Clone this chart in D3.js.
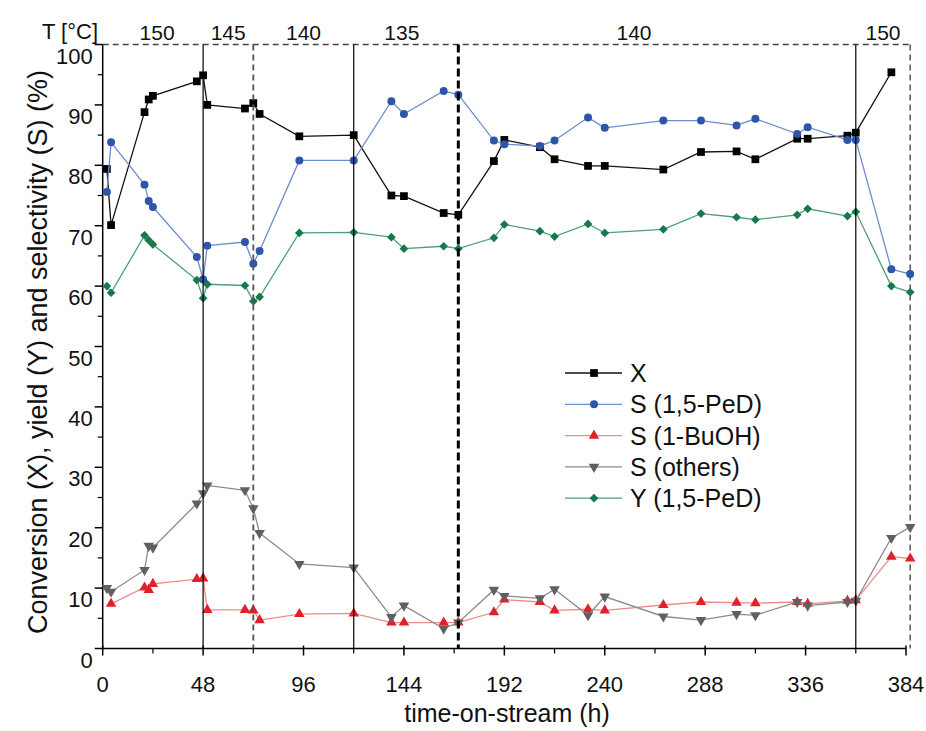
<!DOCTYPE html>
<html>
<head>
<meta charset="utf-8">
<script src="https://cdn.jsdelivr.net/npm/d3@7"></script>
<style>
  body { margin: 0; background: #fff; }
  text { font-family: "Liberation Sans", Arial, sans-serif; fill: #111; }
</style>
</head>
<body>
<script>
// time-on-stream (h) of each sample
const hours = [2, 4, 20, 22, 24, 45, 48, 50, 68, 72, 75, 94, 120, 138, 144, 163, 170,
  187, 192, 209, 216, 232, 240, 268, 286, 303, 312, 332, 337, 356, 360, 377, 386];

// values in %, null = no point
const conversionX = [79.4, 70.1, 88.8, 90.9, 91.5, 93.9, 94.9, 90.0, 89.4, 90.3, 88.5, 84.8, 85.0, 75.0, 74.9, 72.1, 71.8,
  80.7, 84.2, 83.0, 81.0, 79.9, 79.9, 79.3, 82.2, 82.3, 81.0, 84.4, 84.4, 84.9, 85.4, 95.4, null];
const selPeD = [75.6, 83.8, 76.8, 74.1, 73.1, 64.8, 61.1, 66.7, 67.3, 63.7, 65.8, 80.8, 80.8, 90.6, 88.5, 92.3, 91.7,
  84.1, 83.5, 83.2, 84.1, 87.9, 86.2, 87.4, 87.4, 86.6, 87.7, 85.2, 86.3, 84.2, 84.2, 62.8, 62.0];
const selBuOH = [null, 7.4, 10.1, 9.7, 10.7, 11.5, 11.6, 6.4, 6.4, 6.3, 4.7, 5.7, 5.8, 4.3, 4.3, 4.3, 4.3,
  6.0, 8.1, 7.7, 6.3, 6.5, 6.3, 7.2, 7.7, 7.6, 7.5, 7.7, 7.4, 7.9, 8.0, 15.2, 14.9];
const selOthers = [10.0, 9.4, 13.0, 17.0, 16.7, 24.0, 25.7, 27.0, 26.2, 23.2, 19.1, 14.0, 13.4, 5.2, 7.1, 3.3, 4.3,
  9.7, 8.7, 8.3, 9.8, 5.5, 8.6, 5.3, 4.7, 5.7, 5.5, 7.7, 7.1, 7.7, 7.9, 18.3, 20.1];
const yieldPeD = [60.0, 58.9, 68.4, 67.6, 66.9, 61.0, 58.0, 60.3, 60.1, 57.5, 58.2, 68.8, 68.9, 68.1, 66.2, 66.6, 66.2,
  68.0, 70.2, 69.1, 68.2, 70.3, 68.8, 69.4, 72.0, 71.4, 71.0, 71.8, 72.8, 71.6, 72.3, 60.0, 59.0];

const seriesNames = ["X", "S (1,5-PeD)", "S (1-BuOH)", "S (others)", "Y (1,5-PeD)"];

// temperature periods
const switchHours = [48, 72, 120, 170, 360];
const endHour = 386;
const tempLabels = ["150", "145", "140", "135", "140", "150"];
const tempLabelHours = [26, 60, 96, 143, 254, 373];

const xTicks = d3.range(0, 385, 48);
const xMinor = d3.range(24, 385, 48);
const yTicks = d3.range(0, 101, 10);
const yMinor = d3.range(5, 100, 10);

const width = 926, height = 731;
const svg = d3.select("body").append("svg")
  .attr("width", width).attr("height", height);

const x = d3.scaleLinear().domain([0, 384]).range([102.7, 906]);
const y = d3.scaleLinear().domain([0, 100]).range([648.5, 44.5]);

// styles per series (same order as seriesNames)
const styles = [
  { line: "#111", fill: "#000", sym: d3.symbolSquare, size: 60, rot: 0 },
  { line: "#6f8ccc", fill: "#2f55a8", sym: d3.symbolCircle, size: 50, rot: 0 },
  { line: "#f08a8a", fill: "#e0202c", sym: d3.symbolTriangle, size: 48, rot: 0 },
  { line: "#8c8c8c", fill: "#606060", sym: d3.symbolTriangle, size: 48, rot: 180 },
  { line: "#4f9f78", fill: "#17784a", sym: d3.symbolSquare, size: 38, rot: 45 }
];
const values = [conversionX, selPeD, selBuOH, selOthers, yieldPeD];

// axes
const gx = svg.append("g").attr("transform", "translate(0," + y(0) + ")");
gx.append("line").attr("x1", x(0)).attr("x2", x(384)).attr("stroke", "#000").attr("stroke-width", 1.5);
gx.selectAll(".maj").data(xTicks).join("line")
  .attr("x1", d => x(d)).attr("x2", d => x(d)).attr("y1", -3).attr("y2", 7)
  .attr("stroke", "#000").attr("stroke-width", 1.5);
gx.selectAll(".min").data(xMinor).join("line")
  .attr("x1", d => x(d)).attr("x2", d => x(d)).attr("y1", 0).attr("y2", 5)
  .attr("stroke", "#000").attr("stroke-width", 1.2);
gx.selectAll("text").data(xTicks).join("text")
  .attr("x", d => x(d)).attr("y", 43)
  .attr("text-anchor", "middle").attr("font-size", 22)
  .text(d => d);

const gy = svg.append("g").attr("transform", "translate(" + x(0) + ",0)");
gy.append("line").attr("y1", y(0)).attr("y2", y(100)).attr("stroke", "#000").attr("stroke-width", 1.5);
gy.selectAll(".maj").data(yTicks).join("line")
  .attr("x1", -8).attr("x2", 0).attr("y1", d => y(d)).attr("y2", d => y(d))
  .attr("stroke", "#000").attr("stroke-width", 1.5);
gy.selectAll(".min").data(yMinor).join("line")
  .attr("x1", -5).attr("x2", 0).attr("y1", d => y(d)).attr("y2", d => y(d))
  .attr("stroke", "#000").attr("stroke-width", 1.2);
gy.selectAll("text").data(yTicks).join("text")
  .attr("x", -10).attr("y", d => y(d) + 19)
  .attr("text-anchor", "end").attr("font-size", 22)
  .text(d => d);

// axis titles
svg.append("text")
  .attr("x", 507).attr("y", 722)
  .attr("text-anchor", "middle").attr("font-size", 25)
  .text("time-on-stream (h)");
svg.append("text")
  .attr("transform", "translate(47,352) rotate(-90)")
  .attr("text-anchor", "middle").attr("font-size", 27)
  .text("Conversion (X), yield (Y) and selectivity (S) (%)");

// top border and temperature labels
svg.append("line")
  .attr("x1", x(0)).attr("x2", x(endHour)).attr("y1", y(100)).attr("y2", y(100))
  .attr("stroke", "#444").attr("stroke-width", 1.5).attr("stroke-dasharray", "6,4");
svg.append("line")
  .attr("x1", x(endHour)).attr("x2", x(endHour)).attr("y1", y(100)).attr("y2", y(0))
  .attr("stroke", "#555").attr("stroke-width", 1.5).attr("stroke-dasharray", "6,4");
svg.append("text")
  .attr("x", 70).attr("y", 39).attr("text-anchor", "middle").attr("font-size", 22)
  .text("T [°C]");
svg.selectAll(".temp").data(tempLabels).join("text")
  .attr("x", (d, i) => x(tempLabelHours[i])).attr("y", 40)
  .attr("text-anchor", "middle").attr("font-size", 21)
  .text(d => d);

// data
const line = d3.line().x(d => x(d[0])).y(d => y(d[1]));
values.forEach((vals, k) => {
  const pts = hours.map((h, i) => [h, vals[i]]).filter(p => p[1] != null);
  const st = styles[k];
  svg.append("path").datum(pts)
    .attr("d", line).attr("fill", "none")
    .attr("stroke", st.line).attr("stroke-width", 1.3);
  svg.append("g").selectAll("path").data(pts).join("path")
    .attr("d", d3.symbol().type(st.sym).size(st.size))
    .attr("transform", d => "translate(" + x(d[0]) + "," + y(d[1]) + ") rotate(" + st.rot + ")")
    .attr("fill", st.fill);
});

// temperature switch lines
svg.selectAll(".switch").data(switchHours).join("line")
  .attr("x1", d => x(d)).attr("x2", d => x(d))
  .attr("y1", y(100)).attr("y2", y(0))
  .attr("stroke", d => d == 72 ? "#555" : "#000")
  .attr("stroke-width", d => d == 170 ? 3 : (d == 72 ? 1.8 : 1.2))
  .attr("stroke-dasharray", d => d == 170 ? "8,4" : (d == 72 ? "6,4" : null));

// legend
const legend = svg.append("g");
seriesNames.forEach((name, k) => {
  const st = styles[k];
  const ly = 373 + k * 31.3;
  legend.append("line").attr("x1", 565).attr("x2", 622).attr("y1", ly).attr("y2", ly)
    .attr("stroke", st.line).attr("stroke-width", 1.3);
  legend.append("path")
    .attr("d", d3.symbol().type(st.sym).size(st.size))
    .attr("transform", "translate(594," + ly + ") rotate(" + st.rot + ")")
    .attr("fill", st.fill);
  legend.append("text").attr("x", 630).attr("y", ly + 9)
    .attr("font-size", 25).text(name);
});
</script>
</body>
</html>
